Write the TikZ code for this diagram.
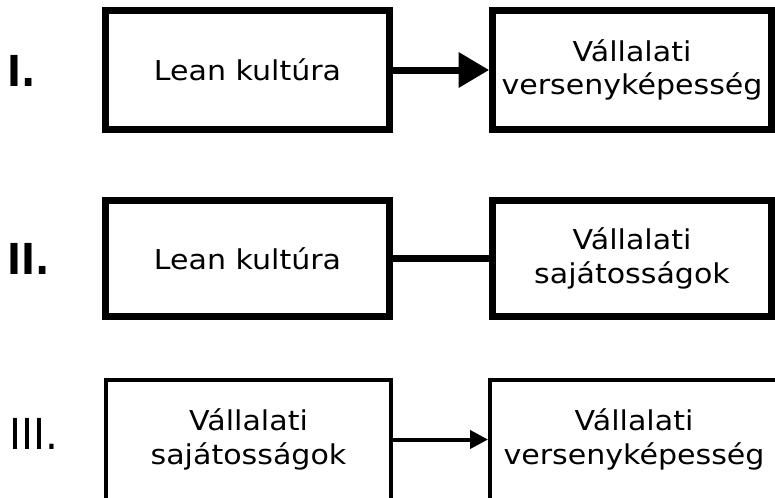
\documentclass[tikz,border=0pt]{standalone}
\usepackage{fontspec}
\setmainfont{DejaVu Sans}[FakeStretch=1.1]
\usetikzlibrary{arrows.meta}

\tikzset{
  box/.style={draw, line width=5.25pt, minimum width=213pt, minimum height=89pt, align=center,
    font=\fontsize{20.5}{25}\selectfont},
  thinbox/.style={box, line width=3pt},
  rowlabel/.style={font=\fontsize{32}{36}\selectfont\addfontfeature{FakeStretch=0.95}, anchor=west, inner sep=0pt},
  boldlabel/.style={rowlabel, font=\fontsize{32}{36}\selectfont\bfseries\addfontfeature{FakeStretch=0.88}}
}

\begin{document}
\begin{tikzpicture}[x=0.75pt,y=-0.75pt]
        \clip (0,0) rectangle (775,497);
        % row I
        \node[boldlabel] (romI) at (7,71) {I.};
        \node[box] (leanI) at (247.5,70) {Lean kultúra};
        \node[box,minimum width=209pt] (versenyI) at (632,70) {Vállalati\\versenyképesség};
        \draw[line width=5.25pt,-{Triangle[length=23pt,width=25.5pt]}] (leanI) -- (versenyI);
        % row II
        \node[boldlabel] (romII) at (7,258.5) {II.};
        \node[box,minimum height=87pt] (leanII) at (247.5,258.5) {Lean kultúra};
        \node[box,minimum width=209pt,minimum height=87pt] (sajatII) at (632,258.5) {Vállalati\\sajátosságok};
        \draw[line width=5.25pt] (leanII) -- (sajatII);
        % row III
        \node[rowlabel] (romIII) at (9,434) {III.};
        \node[thinbox,minimum width=214pt,minimum height=90pt] (sajatIII) at (248.5,439.5) {Vállalati\\sajátosságok};
        \node[thinbox,minimum width=216pt,minimum height=90pt] (versenyIII) at (634,439.5) {Vállalati\\versenyképesség};
        \draw[line width=3pt,-{Triangle[length=13.5pt,width=13.5pt]}] (sajatIII) -- (versenyIII);
    \end{tikzpicture}
\end{document}
